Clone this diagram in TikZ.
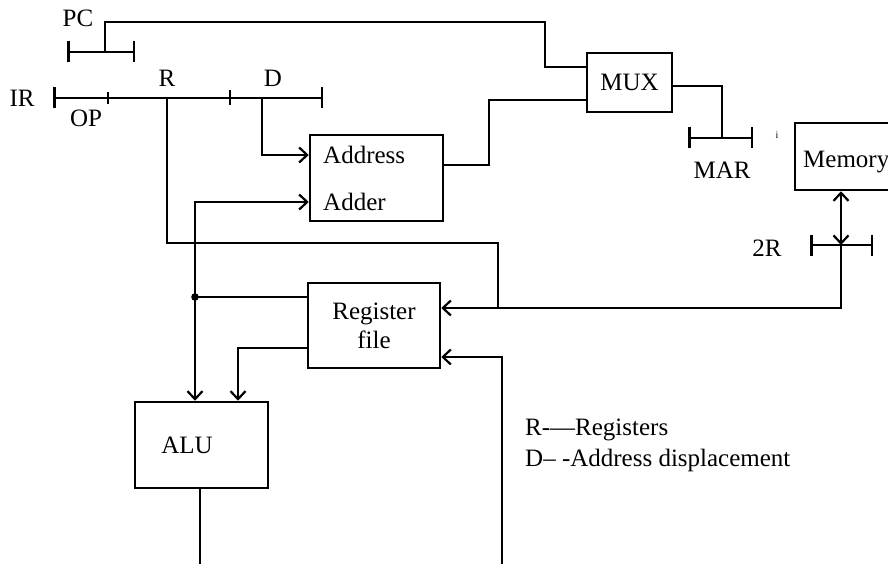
\documentclass[tikz,border=0pt]{standalone}
\usepackage{fontspec}
\setmainfont{Liberation Serif}
\usetikzlibrary{arrows.meta}
\begin{document}
\begin{tikzpicture}[x=1pt,y=-1pt,
  ln/.style={line width=2.5pt},
  box/.style={draw,line width=2.5pt,inner sep=0pt,rectangle,font=\fontsize{25}{29}\selectfont},
  txt/.style={font=\fontsize{25}{29}\selectfont,inner sep=0pt},
  arr/.style={-{Straight Barb[length=8pt,width=15pt,line width=2.2pt]}},
  regbar/.style={line width=2.5pt,{Bar[width=21pt]}-{Bar[width=21pt]}},
  smalltick/.style={line width=2.2pt}]
\clip (0,0) rectangle (888,564);
\fill[white] (0,0) rectangle (888,564);
% boxes
\node[box,minimum width=133pt,minimum height=86pt] (adder) at (376.5,178) {};
\node[txt,anchor=west] (addrtxt) at (323,155) {Address};
\node[txt,anchor=west] (addertxt) at (323,202) {Adder};
\node[box,minimum width=85pt,minimum height=59pt] (mux) at (629.5,82.5) {MUX};
\node[box,minimum width=110pt,minimum height=67pt] (mem) at (850,156.5) {};
\node[txt,anchor=west] (memtxt) at (803,162) {Memory};
\node[box,minimum width=132pt,minimum height=85pt,align=center] (rf) at (374,325.5) {Register\\file};
\node[box,minimum width=133pt,minimum height=86pt] (alu) at (201.5,445) {};
\node[txt] (alutxt) at (187,445) {ALU};
% registers
\coordinate (pcL) at (67,52); \coordinate (pcR) at (135,52); \coordinate (pcS) at (105,52);
\draw[regbar] (pcL) -- (pcR);
\coordinate (irL) at (53,98); \coordinate (irR) at (323,98);
\coordinate (rS) at (167,98); \coordinate (dS) at (262,98);
\draw[regbar] (irL) -- (irR);
\draw[smalltick] (108,92) -- (108,104);
\draw[smalltick] (230,90) -- (230,105);
\coordinate (marL) at (688,138); \coordinate (marR) at (753,138); \coordinate (marS) at (722,138);
\draw[regbar] (marL) -- (marR);
\coordinate (r2L) at (810,245); \coordinate (r2R) at (873,245); \coordinate (r2S) at (841,245);
\draw[regbar] (r2L) -- (r2R);
% labels
\node[txt] (pclab) at (78,18) {PC};
\node[txt] (irlab) at (22,98) {IR};
\node[txt] (oplab) at (86,118) {OP};
\node[txt] (rlab) at (167,78) {R};
\node[txt] (dlab) at (273,78) {D};
\node[txt] (marlab) at (722,170) {MAR};
\node[txt] (r2lab) at (767,248) {2R};
\node[inner sep=0pt,font=\fontsize{10}{12}\selectfont] (ilab) at (777,135) {i};
% connectors
\draw[ln] (pcS) -- (105,22) -| (545,67) -- ([yshift=15.5pt]mux.west);
\draw[ln,arr] (dS) |- ([yshift=23pt]adder.west);
\draw[ln] ([yshift=13pt]adder.east) -- (489,165) |- ([yshift=-17.5pt]mux.west);
\draw[ln] ([yshift=-3.5pt]mux.east) -| (marS);
\draw[ln,{Straight Barb[length=8pt,width=15pt,line width=2.2pt]}-{Straight Barb[length=8pt,width=15pt,line width=2.2pt]}] (mem.south -| r2S) -- (r2S);
\draw[ln,arr] (r2S) |- ([yshift=17.5pt]rf.east);
\draw[ln] (rS) -- (167,243) -| (498,308);
\coordinate (bot) at (502,564);
\draw[ln,arr] (bot) |- ([yshift=-31.5pt]rf.east);
\coordinate (dot) at (195,297);
\draw[ln] ([yshift=28.5pt]rf.west) -- (dot);
\draw[ln,arr] (dot) -- (dot |- alu.north);
\draw[ln,arr] (dot) |- ([yshift=-24pt]adder.west);
\fill (dot) circle (3.8pt);
\draw[ln,arr] ([yshift=-22.5pt]rf.west) -| ([xshift=36.5pt]alu.north);
\coordinate (aluout) at (200,564);
\draw[ln] ([xshift=-1.5pt]alu.south) -- (aluout);
% legend
\node[txt,anchor=base west] (leg1) at (525,435) {R-—Registers};
\node[txt,anchor=base west] (leg2) at (525,466) {D– -Address displacement};
\end{tikzpicture}
\end{document}
